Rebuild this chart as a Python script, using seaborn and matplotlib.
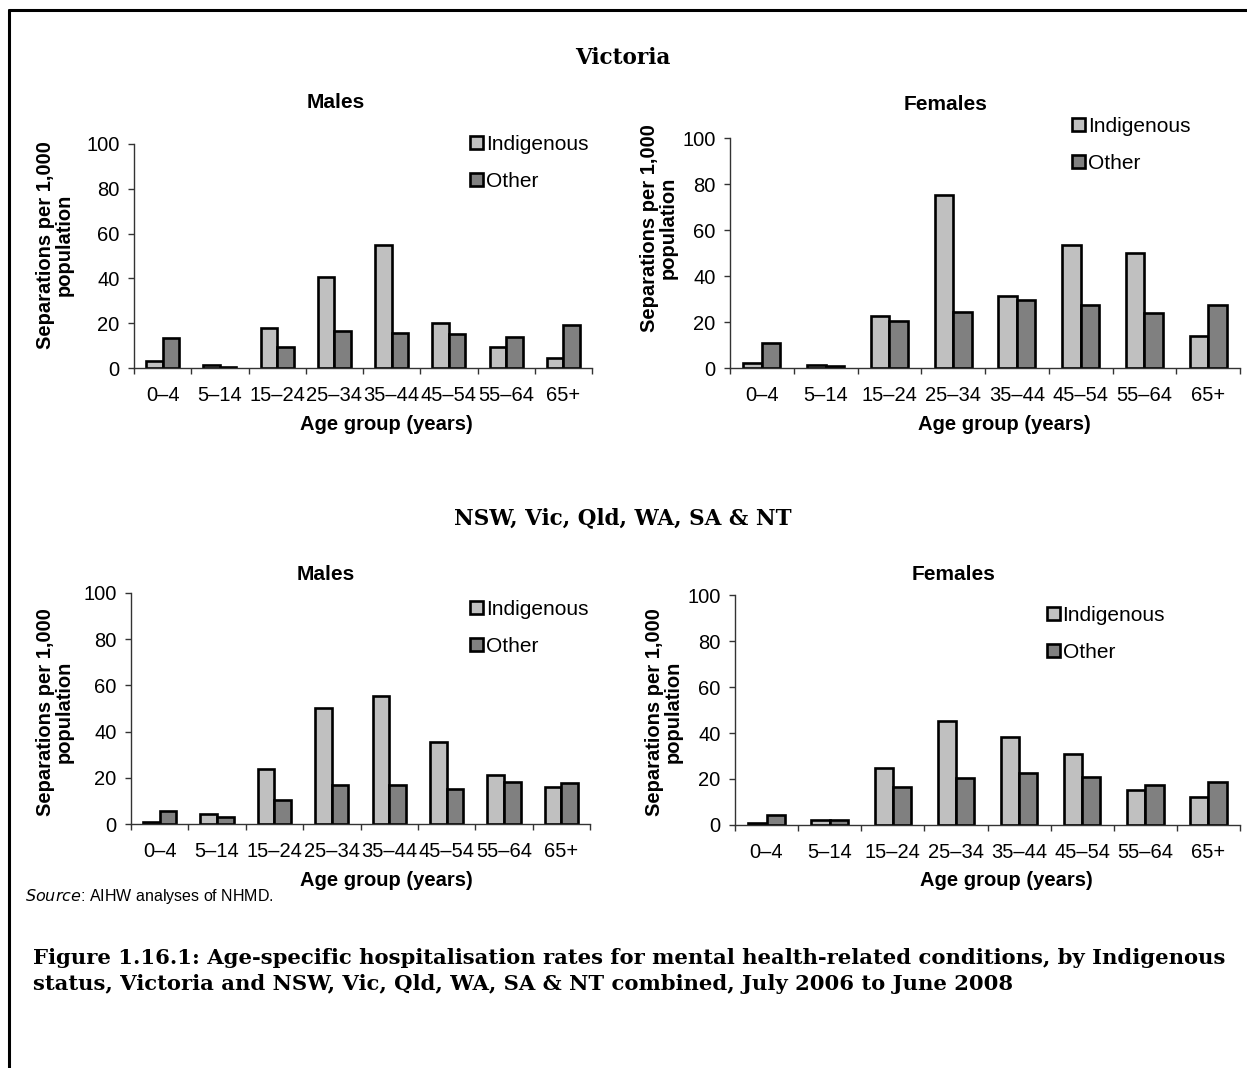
import pandas as pd
import matplotlib
matplotlib.use('Agg')
import matplotlib.pyplot as plt
from matplotlib.lines import Line2D
from matplotlib.ticker import FixedLocator
import seaborn as sns

# Values (separations per 1,000 population)
ages = ['0–4', '5–14', '15–24', '25–34', '35–44', '45–54', '55–64', '65+']
statuses = ['Indigenous', 'Other']

vic_male_indig = [3.0, 1.3, 17.9, 40.6, 55.1, 20.3, 9.3, 4.3]
vic_male_other = [13.3, 0.5, 9.3, 16.3, 15.5, 15.2, 13.7, 19.0]
vic_female_indig = [2.2, 1.2, 22.8, 75.0, 31.3, 53.4, 49.9, 14.1]
vic_female_other = [10.9, 1.0, 20.6, 24.5, 29.6, 27.3, 23.8, 27.3]
all_male_indig = [1.0, 4.2, 24.0, 50.4, 55.5, 35.3, 21.3, 16.1]
all_male_other = [5.5, 3.0, 10.6, 17.0, 16.8, 15.0, 18.3, 17.6]
all_female_indig = [1.0, 2.3, 24.8, 45.4, 38.3, 30.9, 15.1, 12.0]
all_female_other = [4.5, 2.0, 16.7, 20.6, 22.6, 20.9, 17.4, 18.8]

sns.set_style('white')
plt.rcParams['font.family'] = ['Liberation Sans', 'DejaVu Sans']
plt.rcParams['text.color'] = 'black'
plt.rcParams['xtick.color'] = 'black'
plt.rcParams['ytick.color'] = 'black'

W, H = 1247, 1068
fig = plt.figure(figsize=(W / 100, H / 100), dpi=100)


def fx(x):
    return x / W


def fy(y):
    return 1 - y / H


def make_df(indig, other):
    return pd.DataFrame({
        'age': ages * 2,
        'status': ['Indigenous'] * len(ages) + ['Other'] * len(ages),
        'rate': list(indig) + list(other),
    })


palette = {'Indigenous': '#c0c0c0', 'Other': '#808080'}


def panel(box, indig, other, title, title_xy, ylab_x, ylab_y, xlab_xy, leg_xy):
    l, t, r, b = box
    ax = fig.add_axes([fx(l), fy(b), fx(r) - fx(l), (b - t) / H])
    df = make_df(indig, other)
    sns.barplot(data=df, x='age', y='rate', hue='status', palette=palette,
                width=0.58, gap=0, edgecolor='black', linewidth=1.9,
                saturation=1, ax=ax, legend=True)
    ax.set_xlim(-0.5, len(ages) - 0.5)
    ax.set_ylim(0, 100)
    ax.set_yticks([0, 20, 40, 60, 80, 100])
    ax.set_xlabel('')
    ax.set_ylabel('')
    for s in ['top', 'right']:
        ax.spines[s].set_visible(False)
    for s in ['left', 'bottom']:
        ax.spines[s].set_color('#333333')
        ax.spines[s].set_linewidth(1.0)
    ax.tick_params(axis='y', which='major', direction='out', length=4,
                   width=1, color='#333333', labelcolor='black',
                   labelsize=14.5, pad=6.5, left=True)
    ax.tick_params(axis='x', which='major', length=0, labelsize=14.5, pad=13,
                   labelcolor='black')
    ax.xaxis.set_minor_locator(FixedLocator([i - 0.5 for i in range(len(ages) + 1)]))
    ax.tick_params(axis='x', which='minor', direction='out', length=4.5,
                   width=1, color='#333333', bottom=True)

    h, lab = ax.get_legend_handles_labels()
    ax.get_legend().remove()
    leg = fig.legend(h, lab, loc='center left',
                     bbox_to_anchor=(fx(leg_xy[0]), fy(leg_xy[1])),
                     frameon=False, fontsize=15, handlelength=0.6,
                     handleheight=0.6, handletextpad=0.15, labelspacing=0.85,
                     borderpad=0, borderaxespad=0)
    for p in leg.get_patches():
        p.set_edgecolor('black')
        p.set_linewidth(1.9)
    for txt in leg.get_texts():
        txt.set_color('black')

    fig.text(fx(title_xy[0]), fy(title_xy[1]), title, ha='center', va='center',
             fontsize=15, fontweight='bold')
    fig.text(fx(xlab_xy[0]), fy(xlab_xy[1]), 'Age group (years)', ha='center',
             va='center', fontsize=14.5, fontweight='bold')
    fig.text(fx(ylab_x), fy(ylab_y), 'Separations per 1,000\npopulation',
             ha='center', va='center', rotation=90, fontsize=14.5,
             fontweight='bold', linespacing=1.0, multialignment='center')
    return ax


panel((134, 144, 592, 368), vic_male_indig, vic_male_other, 'Males',
      (336, 102), 55, 245, (386, 424), (470, 163))
panel((730, 138, 1240, 368), vic_female_indig, vic_female_other, 'Females',
      (946, 104), 659, 228, (1004, 424), (1072, 145))
panel((131, 593, 590, 824), all_male_indig, all_male_other, 'Males',
      (326, 575), 55, 712, (386, 881), (470, 628))
panel((735, 595, 1240, 825), all_female_indig, all_female_other, 'Females',
      (954, 575), 664, 712, (1006, 881), (1047, 634))

serif = ['DejaVu Serif']
fig.text(fx(623), fy(58), 'Victoria', ha='center', va='center', fontsize=15.5,
         fontweight='bold', family=serif)
fig.text(fx(623), fy(518), 'NSW, Vic, Qld, WA, SA & NT', ha='center',
         va='center', fontsize=15.5, fontweight='bold', family=serif)

fig.text(fx(25), fy(896), r'$\it{Source}$: AIHW analyses of NHMD.', ha='left',
         va='center', fontsize=11.5)
fig.text(fx(33), fy(971),
         'Figure 1.16.1: Age-specific hospitalisation rates for mental health-related conditions, by Indigenous\n'
         'status, Victoria and NSW, Vic, Qld, WA, SA & NT combined, July 2006 to June 2008',
         ha='left', va='center', fontsize=15.2, fontweight='bold', family=serif,
         linespacing=1.35)

# outer frame (top and left edges visible in the reference)
fig.add_artist(Line2D([fx(9), 1.0], [fy(10), fy(10)], color='black', lw=2.2))
fig.add_artist(Line2D([fx(9), fx(9)], [fy(10), 0.0], color='black', lw=2.2))

fig.savefig('out.png', dpi=100)
